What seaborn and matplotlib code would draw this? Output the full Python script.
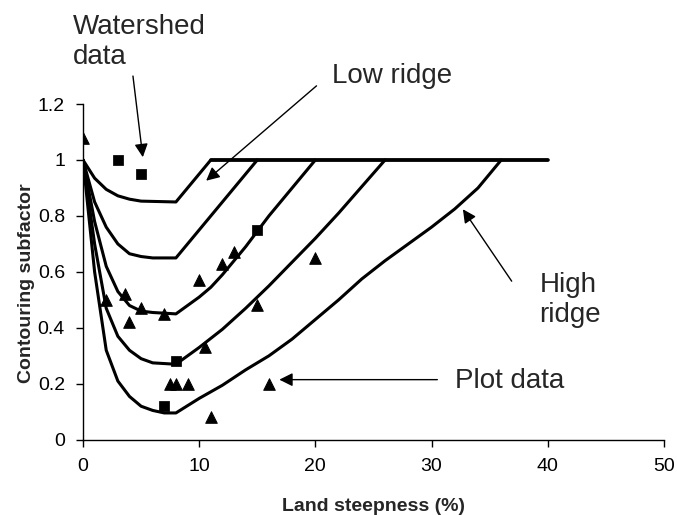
import matplotlib
matplotlib.use("Agg")
import matplotlib.pyplot as plt
import seaborn as sns

# contouring curves
c1_x = [0, 1, 2, 3, 4, 5, 8, 11, 40]
c1_y = [1, 0.935, 0.895, 0.872, 0.86, 0.853, 0.85, 1, 1]
c2_x = [0, 1, 2, 3, 4, 5, 6, 8, 15]
c2_y = [1, 0.85, 0.76, 0.7, 0.665, 0.655, 0.65, 0.65, 1]
c3_x = [0, 1, 2, 3, 4, 5, 6, 8, 9, 10, 11, 12, 13, 14, 15, 16, 17, 18, 19, 20]
c3_y = [1, 0.78, 0.62, 0.53, 0.48, 0.46, 0.455, 0.45, 0.48, 0.51, 0.545, 0.59, 0.64, 0.69, 0.745, 0.8, 0.85, 0.9, 0.95, 1]
c4_x = [0, 1, 2, 3, 4, 5, 6, 8, 9, 10, 12, 14, 16, 18, 20, 22, 24, 26]
c4_y = [1, 0.7, 0.47, 0.37, 0.32, 0.29, 0.275, 0.27, 0.3, 0.33, 0.395, 0.47, 0.55, 0.635, 0.72, 0.81, 0.905, 1]
c5_x = [0, 1, 2, 3, 4, 5, 6, 7, 8, 10, 12, 14, 16, 18, 20, 22, 24, 26, 28, 30, 32, 34, 36]
c5_y = [1, 0.6, 0.32, 0.21, 0.155, 0.12, 0.105, 0.096, 0.096, 0.148, 0.195, 0.25, 0.3, 0.36, 0.43, 0.5, 0.575, 0.64, 0.7, 0.76, 0.825, 0.9, 1]

# plot data (triangles) and watershed data (squares)
plot_x = [0, 2, 3.6, 4, 5, 7, 7.5, 8, 9, 10, 10.5, 11, 12, 13, 15, 16, 20]
plot_y = [1.08, 0.5, 0.52, 0.42, 0.47, 0.45, 0.2, 0.2, 0.2, 0.57, 0.33, 0.08, 0.63, 0.67, 0.48, 0.2, 0.65]
shed_x = [3, 5, 7, 8, 15]
shed_y = [1.0, 0.95, 0.12, 0.28, 0.75]

x_ticks = [0, 10, 20, 30, 40, 50]
y_ticks = [0, 0.2, 0.4, 0.6, 0.8, 1, 1.2]
y_ticklabels = ['0', '0.2', '0.4', '0.6', '0.8', '1', '1.2']

sns.set_style("ticks")
plt.rcParams['font.family'] = ['Liberation Sans', 'DejaVu Sans']

fig = plt.figure(figsize=(6.77, 5.15), dpi=100)
ax = fig.add_axes([0.1226, 0.146, 0.858, 0.652])

curves = [(c1_x, c1_y), (c2_x, c2_y), (c3_x, c3_y), (c4_x, c4_y), (c5_x, c5_y)]
for cx, cy in curves:
    sns.lineplot(x=cx, y=cy, ax=ax, color='black', lw=2.2, sort=False)
# flat top part is drawn by all curves in the original, so it looks heavier
sns.lineplot(x=[c1_x[-2], c1_x[-1]], y=[1, 1], ax=ax, color='black', lw=2.6)

sns.scatterplot(x=plot_x, y=plot_y, ax=ax, marker='^', s=70, color='black',
                edgecolor='black', zorder=5)
sns.scatterplot(x=shed_x, y=shed_y, ax=ax, marker='s', s=45, color='black',
                edgecolor='black', zorder=5)

ax.set_xlim(0, 50)
ax.set_ylim(0, 1.2)
ax.set_xticks(x_ticks)
ax.set_yticks(y_ticks)
ax.set_xticklabels([str(t) for t in x_ticks])
ax.set_yticklabels(y_ticklabels)
ax.tick_params(axis='both', direction='out', length=5, width=1, colors='black',
               labelsize=14, pad=8)
for s in ['top', 'right']:
    ax.spines[s].set_visible(False)
for s in ['left', 'bottom']:
    ax.spines[s].set_color('black')
    ax.spines[s].set_linewidth(1)

lab_font = dict(fontweight='bold', fontsize=14)
ax.set_xlabel('Land steepness (%)', **lab_font)
ax.set_ylabel('Contouring subfactor', **lab_font)
ax.xaxis.set_label_coords(0.5, -0.172)
ax.yaxis.set_label_coords(-0.083, 0.467)

arrow = dict(arrowstyle='-|>', color='black', lw=1, mutation_scale=20, shrinkA=0, shrinkB=0)
ax.annotate('', xy=(5.15, 1.01), xytext=(4.3, 1.30), arrowprops=arrow, annotation_clip=False)
ax.annotate('', xy=(10.6, 0.926), xytext=(20.1, 1.265), arrowprops=arrow, annotation_clip=False)
ax.annotate('', xy=(32.7, 0.824), xytext=(36.9, 0.567), arrowprops=arrow)
ax.annotate('', xy=(16.9, 0.215), xytext=(30.5, 0.215), arrowprops=arrow)

ax.text(-0.86, 1.52, 'Watershed\ndata', fontsize=20, ha='left', va='top', clip_on=False)
ax.text(21.4, 1.30, 'Low ridge', fontsize=20, ha='left', va='center', clip_on=False)
ax.text(39.3, 0.50, 'High\nridge', fontsize=20, ha='left', va='center')
ax.text(32.0, 0.21, 'Plot data', fontsize=20, ha='left', va='center')

fig.savefig('out.png', dpi=100)
